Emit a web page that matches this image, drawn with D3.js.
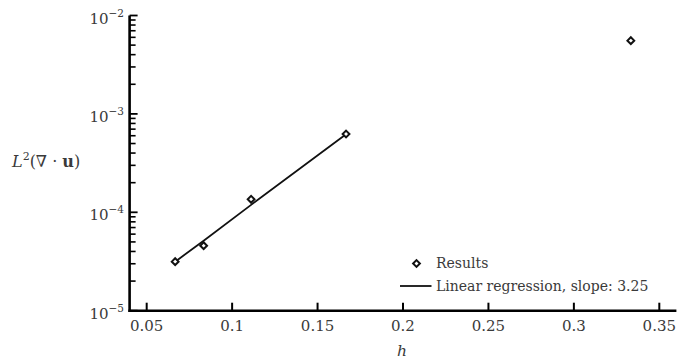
<!DOCTYPE html>
<html>
<head>
<meta charset="utf-8">
<script src="https://cdn.jsdelivr.net/npm/d3@7"></script>
<style>
  html, body { margin: 0; padding: 0; background: #fff; }
  svg { display: block; }
  text { font-family: "DejaVu Serif", "Liberation Serif", serif; fill: #3a3a3a; }
</style>
</head>
<body>
<script>
// ---- data ----
const hValues = [1/15, 1/12, 1/9, 1/6, 1/3];
const errorValues = [3.15e-5, 4.58e-5, 1.355e-4, 6.25e-4, 5.55e-3];
const regressionH = [1/15, 1/12, 1/9, 1/6];
const regressionValues = [3.15e-5, 5.15e-5, 1.19e-4, 6.2e-4];
const xTicks = [0.05, 0.1, 0.15, 0.2, 0.25, 0.3, 0.35];
const xTickLabels = ["0.05", "0.1", "0.15", "0.2", "0.25", "0.3", "0.35"];
const yDecades = [1e-5, 1e-4, 1e-3, 1e-2];
const yExponents = ["−5", "−4", "−3", "−2"];
const legendLabels = ["Results", "Linear regression, slope: 3.25"];

const W = 679, H = 361;
const svg = d3.select("body").append("svg").attr("width", W).attr("height", H);

const x = d3.scaleLinear().domain([0.04, 0.36]).range([129.6, 676.4]);
const y = d3.scaleLog().domain([1e-5, 1e-2]).range([310.7, 15.5]);

// minor ticks for y
const minor = [];
for (let d = -5; d < -2; d++) for (let k = 2; k <= 9; k++) minor.push(k * Math.pow(10, d));

const axisG = svg.append("g");
axisG.selectAll(".ymin").data(minor).join("line")
  .attr("x1", x(0.04)).attr("x2", x(0.04) + 6)
  .attr("y1", d => y(d)).attr("y2", d => y(d))
  .attr("stroke", "#000").attr("stroke-width", 1.6);
axisG.selectAll(".ymaj").data(yDecades).join("line")
  .attr("x1", x(0.04)).attr("x2", x(0.04) + 8)
  .attr("y1", d => y(d)).attr("y2", d => y(d))
  .attr("stroke", "#000").attr("stroke-width", 1.8);
axisG.selectAll(".xmaj").data(xTicks).join("line")
  .attr("x1", d => x(d)).attr("x2", d => x(d))
  .attr("y1", y(1e-5)).attr("y2", y(1e-5) - 8)
  .attr("stroke", "#000").attr("stroke-width", 2);
axisG.append("line").attr("x1", x(0.04)).attr("x2", x(0.04))
  .attr("y1", y(1e-2)).attr("y2", y(1e-5) + 1.2)
  .attr("stroke", "#000").attr("stroke-width", 2.6);
axisG.append("line").attr("x1", x(0.04) - 1.2).attr("x2", x(0.36))
  .attr("y1", y(1e-5)).attr("y2", y(1e-5))
  .attr("stroke", "#000").attr("stroke-width", 2.6);

// x tick labels
svg.selectAll(".xl").data(xTicks).join("text")
  .attr("x", d => x(d)).attr("y", 331)
  .attr("text-anchor", "middle").attr("font-size", 15)
  .text((d, i) => xTickLabels[i]);

// y tick labels
const yl = svg.selectAll(".yl").data(yDecades).join("text")
  .attr("x", 124).attr("y", d => y(d) + 8)
  .attr("text-anchor", "end").attr("font-size", 15);
yl.append("tspan").text("10");
yl.append("tspan").attr("font-size", 10.5).attr("dy", -7).text((d, i) => yExponents[i]);

// axis titles
svg.append("text").attr("x", 402).attr("y", 356).attr("text-anchor", "middle")
  .attr("font-size", 15.5).attr("font-style", "italic").text("h");
const yt = svg.append("text").attr("x", 12).attr("y", 167).attr("font-size", 16);
yt.append("tspan").attr("font-style", "italic").text("L");
yt.append("tspan").attr("font-size", 11).attr("dy", -7).text("2");
yt.append("tspan").attr("dy", 7).text("(∇ · ");
yt.append("tspan").attr("font-weight", "bold").text("u");
yt.append("tspan").text(")");

// regression line
const line = d3.line().x(d => x(d[0])).y(d => y(d[1]));
svg.append("path")
  .datum(regressionH.map((h, i) => [h, regressionValues[i]]))
  .attr("d", line).attr("fill", "none").attr("stroke", "#111").attr("stroke-width", 1.8);

// markers
const diamond = "M0,-3.4L3.4,0L0,3.4L-3.4,0Z";
svg.selectAll(".pt").data(hValues).join("path")
  .attr("d", diamond)
  .attr("transform", (d, i) => `translate(${x(d)},${y(errorValues[i])})`)
  .attr("fill", "#fff").attr("stroke", "#111").attr("stroke-width", 2);

// legend
svg.append("path").attr("d", diamond).attr("transform", "translate(416.5,263.5)")
  .attr("fill", "#fff").attr("stroke", "#111").attr("stroke-width", 2);
svg.append("line").attr("x1", 400).attr("x2", 431.5).attr("y1", 286).attr("y2", 286)
  .attr("stroke", "#111").attr("stroke-width", 1.8);
svg.selectAll(".lg").data(legendLabels).join("text")
  .attr("x", 436).attr("y", (d, i) => 268 + i * 23)
  .attr("font-size", 14).text(d => d);
</script>
</body>
</html>
